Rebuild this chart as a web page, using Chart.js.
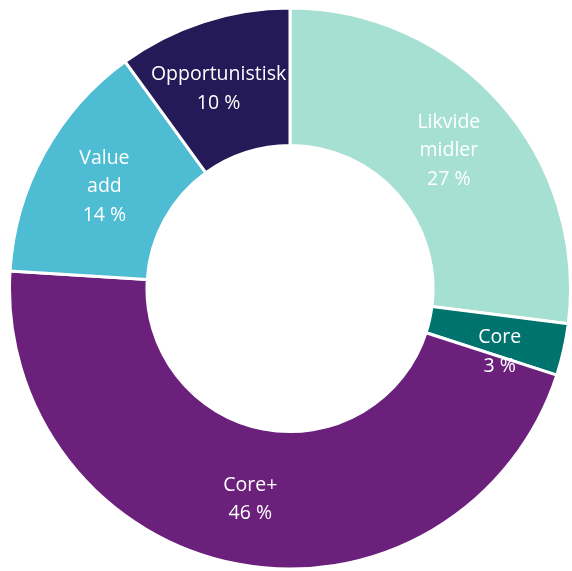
<!DOCTYPE html>
<html>
<head>
<meta charset="utf-8">
<script src="https://cdn.jsdelivr.net/npm/chart.js@4"></script>
<style>
  html, body { margin: 0; padding: 0; background: #fff; }
  #wrap { width: 572px; height: 571px; }
</style>
</head>
<body>
<div id="wrap"><canvas id="allocChart" width="572" height="571"></canvas></div>
<script>
const categories = ['Likvide midler', 'Core', 'Core+', 'Value add', 'Opportunistisk'];
const labelLines = [['Likvide', 'midler'], ['Core'], ['Core+'], ['Value', 'add'], ['Opportunistisk']];
const shares = [27, 3, 46, 14, 10];
const colors = ['#a5e0d3', '#00736e', '#6b217c', '#4ebcd2', '#231a57'];

// draw the category + percent text in the middle of each slice
const sliceLabels = {
  id: 'sliceLabels',
  afterDatasetsDraw(chart, args, opts) {
    const ctx = chart.ctx;
    const meta = chart.getDatasetMeta(0);
    const nudge = opts.nudge || {};
    ctx.save();
    ctx.fillStyle = '#ffffff';
    ctx.font = '19.5px "Open Sans", sans-serif';
    ctx.textAlign = 'center';
    ctx.textBaseline = 'middle';
    meta.data.forEach((arc, i) => {
      const mid = (arc.startAngle + arc.endAngle) / 2;
      const r = (arc.innerRadius + arc.outerRadius) / 2;
      const d = nudge[i] || [0, 0];
      const x = arc.x + Math.cos(mid) * r + d[0];
      const y = arc.y + Math.sin(mid) * r + d[1];
      const lines = labelLines[i].concat([shares[i] + ' %']);
      const lh = 28.5;
      const top = y - (lines.length - 1) * lh / 2;
      lines.forEach((t, j) => ctx.fillText(t, x, top + j * lh));
    });
    ctx.restore();
  }
};

new Chart(document.getElementById('allocChart'), {
  type: 'doughnut',
  data: {
    labels: categories,
    datasets: [{
      data: shares,
      backgroundColor: colors,
      borderColor: '#ffffff',
      borderWidth: 3
    }]
  },
  options: {
    responsive: false,
    animation: false,
    cutout: '51%',
    layout: { padding: { left: 8, top: 6, right: 0, bottom: 0 } },
    plugins: {
      legend: { display: false },
      tooltip: { enabled: false },
      sliceLabels: { nudge: { 0: [0, 2], 1: [3, 17], 2: [0, 3], 4: [-6, 2] } }
    }
  },
  plugins: [sliceLabels]
});
</script>
</body>
</html>
